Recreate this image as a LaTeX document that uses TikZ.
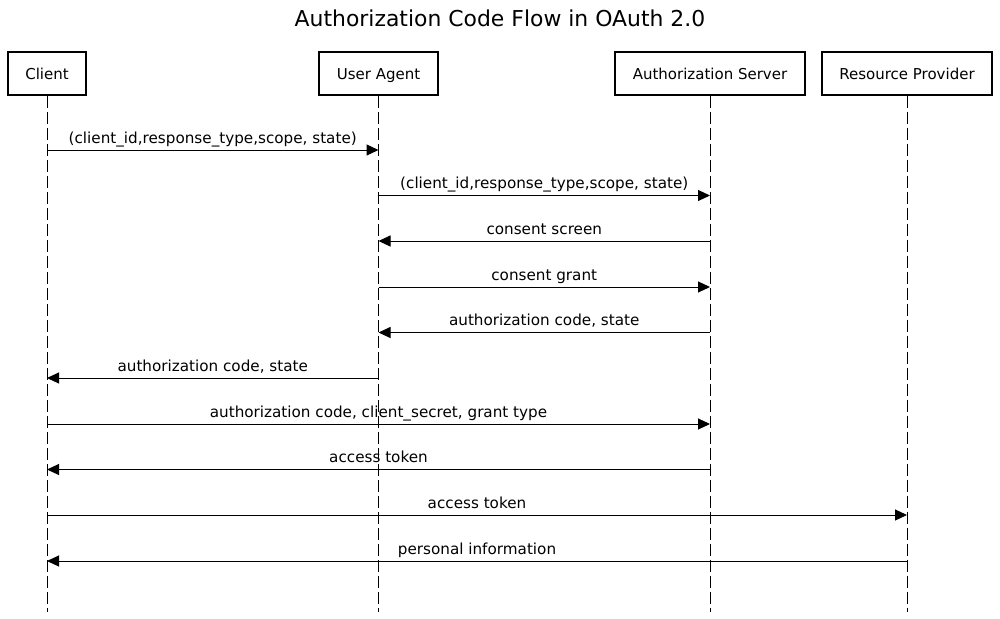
\documentclass[tikz,border=0pt]{standalone}
\usepackage{fontspec}
\setmainfont{DejaVu Sans}
\usetikzlibrary{arrows.meta}
\begin{document}
\begin{tikzpicture}[x=1pt,y=-1pt,
  actor/.style={draw, line width=1.8pt, minimum height=43pt, inner sep=0pt, text height=13pt, text depth=1pt, font=\fontsize{15}{17}\selectfont, fill=white},
  life/.style={line width=1pt, dash pattern=on 12pt off 4pt},
  msg/.style={line width=1pt, -{Triangle[length=12pt,width=11pt]}},
  lbl/.style={midway, anchor=base, yshift=7pt, inner sep=0pt, font=\fontsize{15.2}{17}\selectfont}]
\useasboundingbox (0,0) rectangle (1000,618);
\node[font=\fontsize{21.9}{24}\selectfont] (title) at (500,18) {Authorization Code Flow in OAuth 2.0};
\node[actor, minimum width=78pt] (client) at (47,73.5) {Client};
\node[actor, minimum width=119pt] (ua) at (378.5,73.5) {User Agent};
\node[actor, minimum width=190pt] (as) at (710,73.5) {Authorization Server};
\node[actor, minimum width=170pt] (rp) at (907,73.5) {Resource Provider};
\coordinate (bot) at (0,612);
\foreach \n in {client,ua,as,rp}{\draw[life] (\n.south) -- (\n.south |- bot);}
\coordinate (r1) at (0,150);
\coordinate (r2) at (0,195.5);
\coordinate (r3) at (0,241);
\coordinate (r4) at (0,287);
\coordinate (r5) at (0,332.5);
\coordinate (r6) at (0,378);
\coordinate (r7) at (0,424);
\coordinate (r8) at (0,469.5);
\coordinate (r9) at (0,515);
\coordinate (r10) at (0,561);
\draw[msg] (client |- r1) -- node[lbl]{(client\_id,response\_type,scope, state)} (ua |- r1);
\draw[msg] (ua |- r2) -- node[lbl]{(client\_id,response\_type,scope, state)} (as |- r2);
\draw[msg] (as |- r3) -- node[lbl]{consent screen} (ua |- r3);
\draw[msg] (ua |- r4) -- node[lbl]{consent grant} (as |- r4);
\draw[msg] (as |- r5) -- node[lbl]{authorization code, state} (ua |- r5);
\draw[msg] (ua |- r6) -- node[lbl]{authorization code, state} (client |- r6);
\draw[msg] (client |- r7) -- node[lbl]{authorization code, client\_secret, grant type} (as |- r7);
\draw[msg] (as |- r8) -- node[lbl]{access token} (client |- r8);
\draw[msg] (client |- r9) -- node[lbl]{access token} (rp |- r9);
\draw[msg] (rp |- r10) -- node[lbl]{personal information} (client |- r10);
\end{tikzpicture}
\end{document}
